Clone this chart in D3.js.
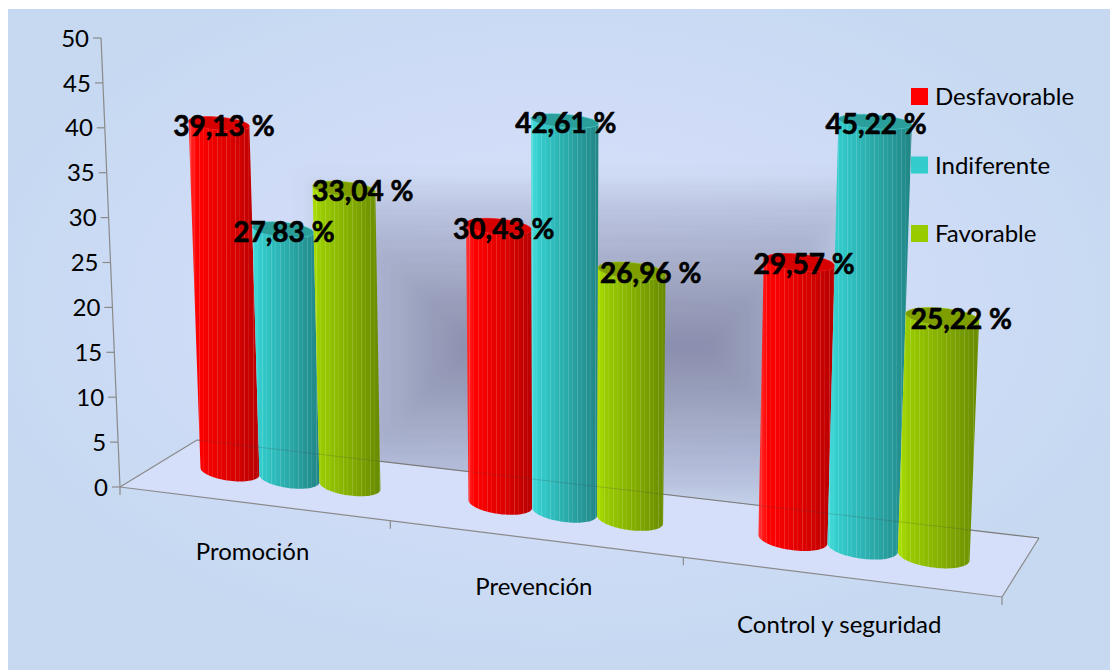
<!DOCTYPE html>
<html>
<head>
<meta charset="utf-8">
<script src="https://cdn.jsdelivr.net/npm/d3@7"></script>
<style>
  body { margin: 0; background: #ffffff; }
  svg text { font-family: Lato, "Open Sans", sans-serif; }
</style>
</head>
<body>
<div id="chart"></div>
<script>
// ---- data ----
const categories = ["Promoción", "Prevención", "Control y seguridad"];
const seriesNames = ["Desfavorable", "Indiferente", "Favorable"];
const desfavorable = [39.13, 30.43, 29.57];
const indiferente = [27.83, 42.61, 45.22];
const favorable = [33.04, 26.96, 25.22];
const yTicks = [0, 5, 10, 15, 20, 25, 30, 35, 40, 45, 50];
const seriesValues = [desfavorable, indiferente, favorable];

// ---- style ----
const seriesColors = ["#FF0000", "#33CCCC", "#99CC00"];
const bodyStops = [
  ["#ff3a3a", "#ff0000", "#e00000", "#b80000"],
  ["#48dcdc", "#33cccc", "#2aa9a9", "#218585"],
  ["#aee000", "#99cc00", "#84ad00", "#688a00"]
];
const capColors = ["#d60000", "#2a9e9a", "#7e9e00"];
const labelShift = [5, 1, 19];

const width = 1110, height = 670;

// floor corners in screen space (front-left, front-right, back-right, back-left)
const floorQuad = [[120, 487], [1002, 597], [1039, 538], [197, 440]];
const vanish = { x: 560, y: 10900 };

function squareToQuad(p0, p1, p2, p3) {
  const dx1 = p1[0] - p2[0], dx2 = p3[0] - p2[0], dx3 = p0[0] - p1[0] + p2[0] - p3[0];
  const dy1 = p1[1] - p2[1], dy2 = p3[1] - p2[1], dy3 = p0[1] - p1[1] + p2[1] - p3[1];
  const den = dx1 * dy2 - dx2 * dy1;
  const g = (dx3 * dy2 - dx2 * dy3) / den;
  const h = (dx1 * dy3 - dx3 * dy1) / den;
  return {
    a: p1[0] - p0[0] + g * p1[0], b: p3[0] - p0[0] + h * p3[0], c: p0[0],
    d: p1[1] - p0[1] + g * p1[1], e: p3[1] - p0[1] + h * p3[1], f: p0[1],
    g: g, h: h
  };
}
const H = squareToQuad(...floorQuad);

function floorPt(u, v) {
  const w = H.g * u + H.h * v + 1;
  return { x: (H.a * u + H.b * v + H.c) / w, y: (H.d * u + H.e * v + H.f) / w, w: w };
}

// value scale (pixels at the front-left corner)
const y = d3.scaleLinear().domain([0, 50]).range([0, 449]);

function lift(u, v, val) {
  const p = floorPt(u, v);
  const hpx = y(val) * Math.pow(1 / p.w, 0.65);
  const t = hpx / (vanish.y - p.y);
  return { x: p.x + (p.x - vanish.x) * t, y: p.y - hpx, h: hpx };
}

// category / series bands along the floor width
const x0 = d3.scaleBand().domain(categories).range([0, 1]).paddingInner(0.32).paddingOuter(0.16);
const x1 = d3.scaleBand().domain(seriesNames).range([0, x0.bandwidth()]);

const svg = d3.select("#chart").append("svg")
  .attr("width", width)
  .attr("height", height);

const defs = svg.append("defs");

const bg = defs.append("radialGradient").attr("id", "bg-grad")
  .attr("cx", 0.5).attr("cy", 0.45).attr("r", 0.55);
bg.append("stop").attr("offset", "0%").attr("stop-color", "#d8e1fb");
bg.append("stop").attr("offset", "55%").attr("stop-color", "#d0dcf7");
bg.append("stop").attr("offset", "100%").attr("stop-color", "#c6d9f1");

seriesNames.forEach((s, i) => {
  const lg = defs.append("linearGradient").attr("id", "body-" + i)
    .attr("x1", 0).attr("x2", 1).attr("y1", 0).attr("y2", 0);
  [0, 0.12, 0.55, 1].forEach((o, k) => {
    lg.append("stop").attr("offset", o).attr("stop-color", bodyStops[i][k]);
  });
});

const stripes = defs.append("pattern").attr("id", "stripes")
  .attr("patternUnits", "userSpaceOnUse").attr("width", 9).attr("height", 10);
stripes.append("rect").attr("x", 1).attr("y", 0).attr("width", 0.8).attr("height", 10)
  .attr("fill", "#ffffff").attr("opacity", 0.2);
stripes.append("rect").attr("x", 5).attr("y", 0).attr("width", 0.8).attr("height", 10)
  .attr("fill", "#ffffff").attr("opacity", 0.1);

defs.append("filter").attr("id", "soft")
  .attr("x", "-20%").attr("y", "-20%").attr("width", "140%").attr("height", "140%")
  .append("feGaussianBlur").attr("stdDeviation", 6);

// back wall polygon for clipping the shading
const wallPts = [floorPt(0, 1), floorPt(1, 1), lift(1, 1, 50), lift(0, 1, 50)];
defs.append("clipPath").attr("id", "wall-clip")
  .append("polygon")
  .attr("points", wallPts.map(p => p.x + "," + p.y).join(" "));

// ---- background ----
svg.append("rect")
  .attr("x", 8).attr("y", 9)
  .attr("width", width - 8).attr("height", height - 9)
  .attr("fill", "url(#bg-grad)");

// floor
svg.append("polygon")
  .attr("points", [floorPt(0, 0), floorPt(1, 0), floorPt(1, 1), floorPt(0, 1)]
    .map(p => p.x + "," + p.y).join(" "))
  .attr("fill", "#d5dffa");

// wall shading (rectangular gradient made of nested rects)
const shade = { x: 300, y: 172, w: 580, h: 348 };
const nLayers = 22;
const step = shade.h / 2 / nLayers;
const shadeG = svg.append("g").attr("clip-path", "url(#wall-clip)")
  .append("g").attr("filter", "url(#soft)");
shadeG.selectAll("rect")
  .data(d3.range(nLayers))
  .join("rect")
  .attr("x", i => shade.x + i * step)
  .attr("y", i => shade.y + i * step)
  .attr("width", i => shade.w - 2 * i * step)
  .attr("height", i => Math.max(0, shade.h - 2 * i * step))
  .attr("fill", "#4d5675")
  .attr("opacity", 0.035);

// floor edges
const edgeColor = "#8a8a8a";
const edges = [[0, 0, 1, 0], [0, 0, 0, 1], [0, 1, 1, 1], [1, 0, 1, 1]];
svg.append("g").selectAll("line")
  .data(edges)
  .join("line")
  .attr("x1", d => floorPt(d[0], d[1]).x)
  .attr("y1", d => floorPt(d[0], d[1]).y)
  .attr("x2", d => floorPt(d[2], d[3]).x)
  .attr("y2", d => floorPt(d[2], d[3]).y)
  .attr("stroke", edgeColor)
  .attr("stroke-width", 1.2);

// category tick marks on front edge
svg.append("g").selectAll("line")
  .data([0, 1 / 3, 2 / 3, 1])
  .join("line")
  .attr("x1", d => floorPt(d, 0).x)
  .attr("y1", d => floorPt(d, 0).y)
  .attr("x2", d => floorPt(d, 0).x)
  .attr("y2", d => floorPt(d, 0).y + 8)
  .attr("stroke", edgeColor)
  .attr("stroke-width", 1.2);

// value axis
const axisG = svg.append("g");
axisG.append("line")
  .attr("x1", lift(0, 0, 0).x).attr("y1", lift(0, 0, 0).y)
  .attr("x2", lift(0, 0, 50).x).attr("y2", lift(0, 0, 50).y)
  .attr("stroke", edgeColor).attr("stroke-width", 1.2);
axisG.selectAll(".tick")
  .data(yTicks)
  .join("line")
  .attr("class", "tick")
  .attr("x1", d => lift(0, 0, d).x - 8)
  .attr("x2", d => lift(0, 0, d).x)
  .attr("y1", d => lift(0, 0, d).y)
  .attr("y2", d => lift(0, 0, d).y)
  .attr("stroke", edgeColor).attr("stroke-width", 1.2);
axisG.selectAll("text")
  .data(yTicks)
  .join("text")
  .attr("x", d => lift(0, 0, d).x - 12)
  .attr("y", d => lift(0, 0, d).y)
  .attr("dy", "0.36em")
  .attr("text-anchor", "end")
  .attr("font-size", 24)
  .attr("fill", "#000")
  .text(d => d);

// ---- cylinders ----
const cyl = [];
categories.forEach((c, ci) => {
  seriesNames.forEach((s, si) => {
    cyl.push({ cat: c, ci: ci, si: si, value: seriesValues[si][ci] });
  });
});

const r = x1.bandwidth() / 2;
const depth = 0.5;
const N = 40;

function ellipsePts(C, E, ry, from, to) {
  return d3.range(N + 1).map(k => {
    const t = from + (to - from) * k / N;
    return [C.x + E.x * Math.cos(t), C.y + E.y * Math.cos(t) + ry * Math.sin(t)];
  });
}

cyl.forEach(d => {
  const uc = x0(d.cat) + x1(seriesNames[d.si]) + r;
  const Lb = floorPt(uc - r, depth), Rb = floorPt(uc + r, depth);
  const Lt = lift(uc - r, depth, d.value), Rt = lift(uc + r, depth, d.value);
  const Cb = { x: (Lb.x + Rb.x) / 2, y: (Lb.y + Rb.y) / 2 };
  const Ct = { x: (Lt.x + Rt.x) / 2, y: (Lt.y + Rt.y) / 2 };
  const Eb = { x: (Rb.x - Lb.x) / 2, y: (Rb.y - Lb.y) / 2 };
  const Et = { x: (Rt.x - Lt.x) / 2, y: (Rt.y - Lt.y) / 2 };
  const ryB = Eb.x * 0.32;
  const ryT = Et.x * (0.32 - 0.14 * Math.min(1, Lt.h / 450));
  d.geo = { Cb, Ct, Eb, Et, ryB, ryT };

  const body = []
    .concat([[Ct.x - Et.x, Ct.y - Et.y]])
    .concat(ellipsePts(Cb, Eb, ryB, Math.PI, 0))
    .concat(ellipsePts(Ct, Et, ryT, 0, Math.PI));
  d.bodyPath = d3.line()(body) + "Z";
  d.capPath = d3.line()(ellipsePts(Ct, Et, ryT, 0, 2 * Math.PI)) + "Z";
});

const cylG = svg.append("g");
const groups = cylG.selectAll("g")
  .data(cyl)
  .join("g");
groups.append("path")
  .attr("d", d => d.bodyPath)
  .attr("fill", d => "url(#body-" + d.si + ")");
groups.append("path")
  .attr("d", d => d.bodyPath)
  .attr("fill", "url(#stripes)");
groups.append("path")
  .attr("d", d => d.capPath)
  .attr("fill", d => capColors[d.si])
  .attr("stroke", d => bodyStops[d.si][1])
  .attr("stroke-width", 0.8)
  .attr("stroke-opacity", 0.6);

// faint back edge showing through the cylinders
svg.append("line")
  .attr("x1", floorPt(0, 1).x).attr("y1", floorPt(0, 1).y)
  .attr("x2", floorPt(1, 1).x).attr("y2", floorPt(1, 1).y)
  .attr("stroke", "#444").attr("stroke-opacity", 0.22).attr("stroke-width", 1);

// value labels
svg.append("g").selectAll("text")
  .data(cyl)
  .join("text")
  .attr("x", d => d.geo.Ct.x + labelShift[d.si])
  .attr("y", d => d.geo.Ct.y + 12)
  .attr("text-anchor", "middle")
  .attr("font-size", 28)
  .attr("font-weight", 700)
  .attr("fill", "#000")
  .attr("stroke", "#000")
  .attr("stroke-width", 0.6)
  .text(d => d3.format(".2f")(d.value).replace(".", ",") + " %");

// category labels
svg.append("g").selectAll("text")
  .data(categories)
  .join("text")
  .attr("x", d => floorPt(x0(d) + x0.bandwidth() / 2, 0).x)
  .attr("y", d => floorPt(x0(d) + x0.bandwidth() / 2, 0).y + 56)
  .attr("text-anchor", "middle")
  .attr("font-size", 24)
  .attr("fill", "#000")
  .text(d => d);

// legend
const legend = svg.append("g").attr("transform", "translate(911,88)");
const items = legend.selectAll("g")
  .data(seriesNames)
  .join("g")
  .attr("transform", (d, i) => `translate(0,${i * 68.5})`);
items.append("rect")
  .attr("width", 17).attr("height", 17)
  .attr("fill", (d, i) => seriesColors[i]);
items.append("text")
  .attr("x", 24).attr("y", 17)
  .attr("font-size", 24)
  .attr("fill", "#000")
  .text(d => d);
</script>
</body>
</html>
